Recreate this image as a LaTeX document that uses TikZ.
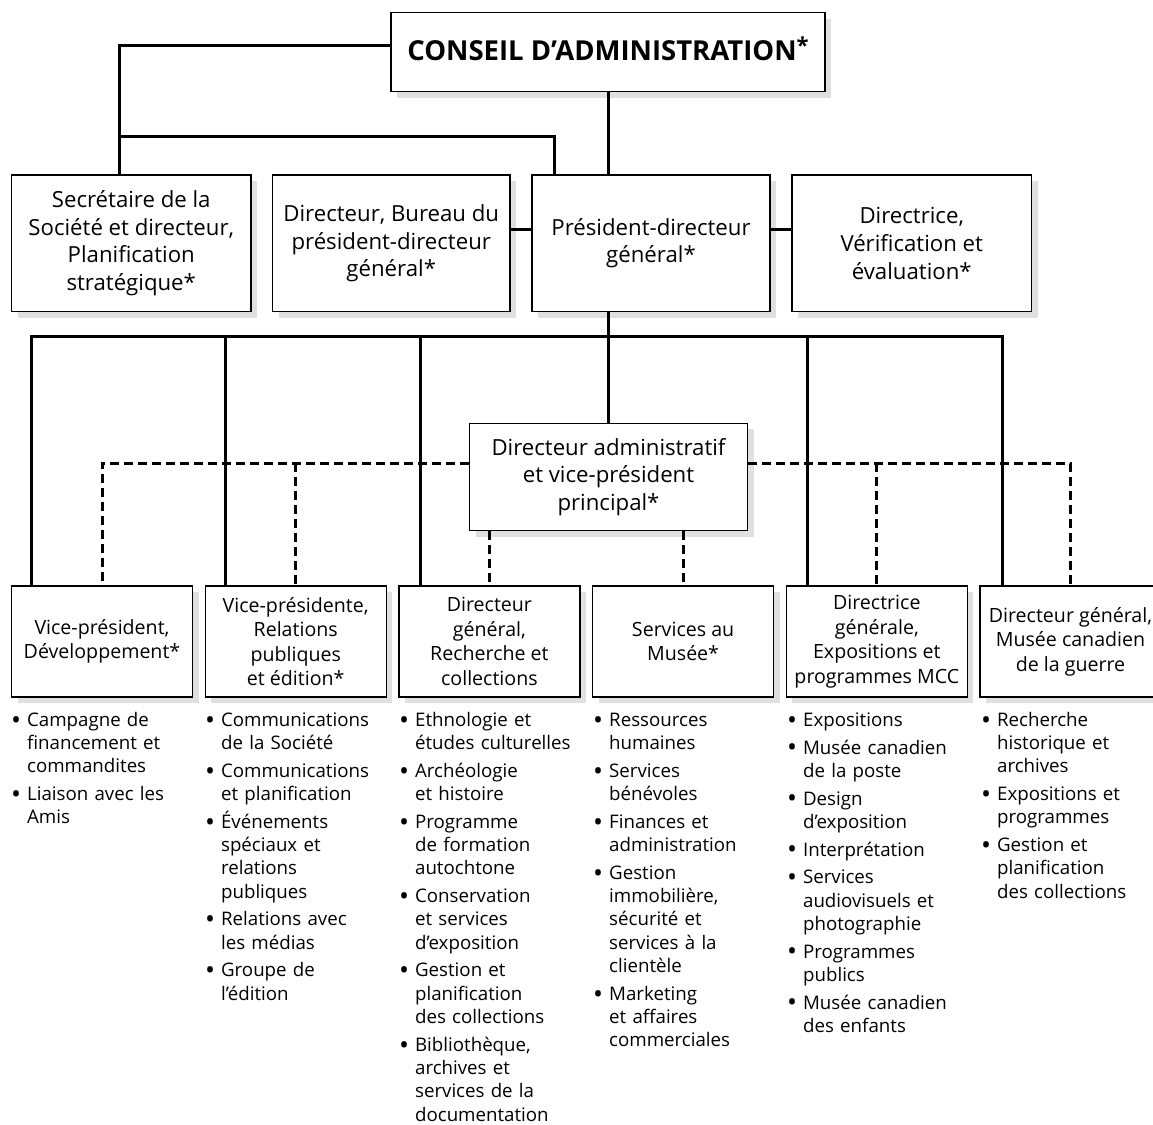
\documentclass[tikz,border=0pt]{standalone}
\usepackage{fontspec}
\usepackage{graphicx}
\setmainfont{Open Sans}
\usetikzlibrary{shadows}
\newcommand{\bi}[1]{\hangindent=12.5pt\hangafter=1\noindent\makebox[12.5pt][l]{\hspace*{-3.5pt}\raisebox{-2.9pt}{\scalebox{1.42}{\textbullet}}}#1\par}
\begin{document}
\begin{tikzpicture}[x=1pt,y=-1pt,
  box/.style={draw=black, line width=1.2pt, fill=white, rectangle, inner sep=0pt, align=center,
    drop shadow={shadow xshift=6pt, shadow yshift=-6pt, fill=black!12, opacity=1}},
  upbox/.style={box, minimum width=238pt, minimum height=136.5pt, font=\fontsize{22.2}{27.8}\selectfont},
  lowbox/.style={box, minimum width=181pt, minimum height=111pt, font=\fontsize{19.6}{24.5}\selectfont},
  org/.style={line width=3pt, line join=miter},
  dotted link/.style={line width=3pt, dash pattern=on 9pt off 5pt},
  blist/.style={anchor=base west, inner sep=0pt, text width=178pt, align=left, font=\fontsize{18.7}{23.3}\selectfont}
]
\useasboundingbox (0,0) rectangle (1153,1124);

% top level
\node[box, minimum width=434pt, minimum height=79pt] (conseil) at (608,52.2) {};
\node[anchor=base, inner sep=0pt, font=\fontsize{27.5}{30}\selectfont\bfseries] (titre) at (608,60)
  {CONSEIL D’ADMINISTRATION\raisebox{6pt}{\fontsize{22}{22}\selectfont *}};

\node[upbox, minimum width=239.5pt] (sec) at (131.25,243.25) {Secrétaire de la\\Société et directeur,\\Planification\\stratégique*};
\node[upbox, minimum width=237.5pt] (bureau) at (391.25,243.25) {Directeur, Bureau du\\président-directeur\\général*};
\node[upbox] (pres) at (651,243.25) {Président-directeur\\général*};
\node[upbox, minimum width=239.5pt] (verif) at (911.75,243.25) {Directrice,\\Vérification et\\évaluation*};

\node[box, minimum width=278pt, minimum height=107.4pt, font=\fontsize{22.2}{27.5}\selectfont] (admin) at (608.5,477) {Directeur administratif\\et vice-président\\principal*};

\node[lowbox] (b1) at (102,641.5) {Vice-président,\\Développement*};
\node[lowbox] (b2) at (295.7,641.5) {Vice-présidente,\\Relations\\publiques\\et édition*};
\node[lowbox] (b3) at (489.4,641.5) {Directeur\\général,\\Recherche et\\collections};
\node[lowbox] (b4) at (683.1,641.5) {Services au\\Musée*};
\node[lowbox] (b5) at (876.8,641.5) {Directrice\\générale,\\Expositions et\\programmes MCC};
\node[lowbox] (b6) at (1070.5,641.5) {Directeur général,\\Musée canadien\\de la guerre};

% connectors, upper part
\coordinate (cw) at ([yshift=7pt]conseil.west);
\coordinate (secT) at ([xshift=-12pt]sec.north);
\coordinate (presT) at ([xshift=-97pt]pres.north);
\path (secT) ++(0,-37.7) coordinate (mid);
\draw[org] (cw) -| (secT);
\draw[org] (mid) -| (presT);
\draw[org] (conseil.south) -- (conseil.south |- pres.north);
\draw[org] ([yshift=14pt]bureau.east) -- ([yshift=14pt]pres.west);
\draw[org] ([yshift=14pt]pres.east) -- ([yshift=14pt]verif.west);

% solid bus
\coordinate (busY) at (608.5,336.7);
\coordinate (v1) at ([xshift=21pt]b1.north west);
\coordinate (v2) at ([xshift=21.3pt]b2.north west);
\coordinate (v3) at ([xshift=22pt]b3.north west);
\coordinate (v5) at ([xshift=22.2pt]b5.north west);
\coordinate (v6) at ([xshift=23pt]b6.north west);
\draw[org] (admin.north |- pres.south) -- (admin.north);
\draw[org] (v1) -- (v1 |- busY) -- (v6 |- busY) -- (v6);
\draw[org] (v2 |- busY) -- (v2);
\draw[org] (v3 |- busY) -- (v3);
\draw[org] (v5 |- busY) -- (v5);

% dashed links
\coordinate (dL) at ([yshift=13.7pt]admin.west);
\coordinate (dR) at ([yshift=13.7pt]admin.east);
\draw[dotted link] (dL) -| (b1.north);
\draw[dotted link] (dR) -| (b6.north);
\draw[dotted link] (b2.north |- dL) -- (b2.north);
\draw[dotted link] (b5.north |- dR) -- (b5.north);
\draw[dotted link] (admin.south -| b3.north) -- (b3.north);
\draw[dotted link] (admin.south -| b4.north) -- (b4.north);

% lists
\node[blist] (l1) at ([xshift=3.5pt,yshift=-28.7pt]b1.south west) {\setlength{\parskip}{4.4pt}%
\bi{Campagne de\newline financement et\newline commandites}
\bi{Liaison avec les\newline Amis}};
\node[blist] (l2) at ([xshift=3.8pt,yshift=-28.7pt]b2.south west) {\setlength{\parskip}{4.4pt}%
\bi{Communications\newline de la Société}
\bi{Communications\newline et planification}
\bi{Événements\newline spéciaux et\newline relations\newline publiques}
\bi{Relations avec\newline les médias}
\bi{Groupe de\newline l’édition}};
\node[blist] (l3) at ([xshift=4.1pt,yshift=-28.7pt]b3.south west) {\setlength{\parskip}{4.4pt}%
\bi{Ethnologie et\newline études culturelles}
\bi{Archéologie\newline et histoire}
\bi{Programme\newline de formation\newline autochtone}
\bi{Conservation\newline et services\newline d’exposition}
\bi{Gestion et\newline planification\newline des collections}
\bi{Bibliothèque,\newline archives et\newline services de la\newline documentation}};
\node[blist] (l4) at ([xshift=4.5pt,yshift=-28.7pt]b4.south west) {\setlength{\parskip}{4.4pt}%
\bi{Ressources\newline humaines}
\bi{Services\newline bénévoles}
\bi{Finances et\newline administration}
\bi{Gestion\newline immobilière,\newline sécurité et\newline services à la\newline clientèle}
\bi{Marketing\newline et affaires\newline commerciales}};
\node[blist] (l5) at ([xshift=4.7pt,yshift=-28.7pt]b5.south west) {\setlength{\parskip}{4.4pt}%
\bi{Expositions}
\bi{Musée canadien\newline de la poste}
\bi{Design\newline d’exposition}
\bi{Interprétation}
\bi{Services\newline audiovisuels et\newline photographie}
\bi{Programmes\newline publics}
\bi{Musée canadien\newline des enfants}};
\node[blist] (l6) at ([xshift=5pt,yshift=-28.7pt]b6.south west) {\setlength{\parskip}{4.4pt}%
\bi{Recherche\newline historique et\newline archives}
\bi{Expositions et\newline programmes}
\bi{Gestion et\newline planification\newline des collections}};
\end{tikzpicture}
\end{document}
